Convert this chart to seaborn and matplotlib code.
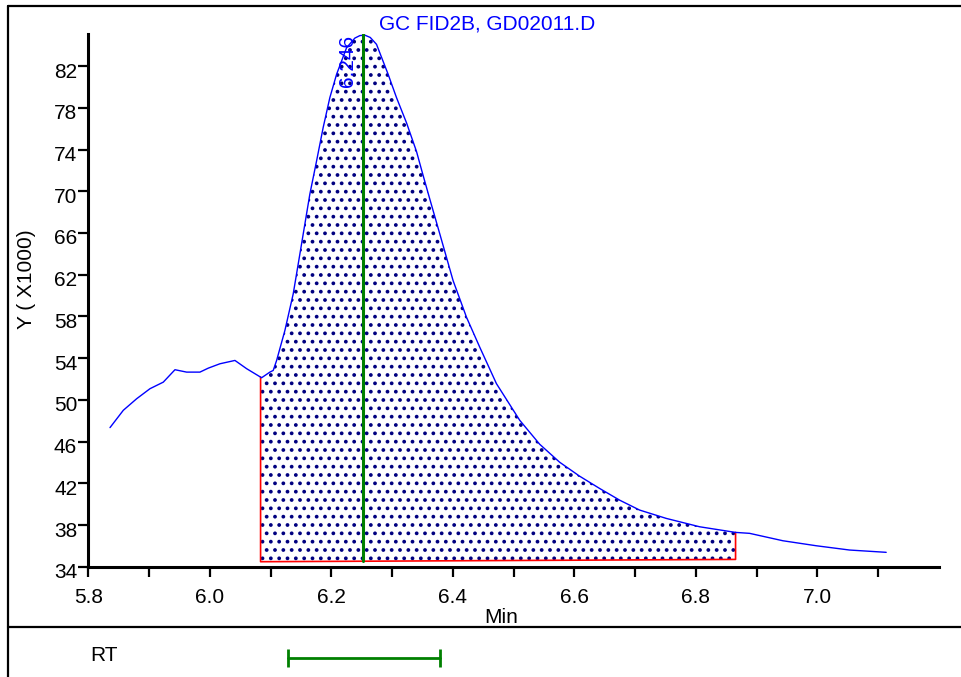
import matplotlib.pyplot as plt
import matplotlib.transforms as mtransforms
from matplotlib.lines import Line2D
import numpy as np
import seaborn as sns

sns.set_theme(style="ticks")
plt.rcParams["font.family"] = ["Liberation Sans", "DejaVu Sans"]
plt.rcParams["hatch.linewidth"] = 1.5

# chromatogram trace: retention time (min) vs signal (x1000)
time_min = [5.8357, 5.8576, 5.8796, 5.9015, 5.9234, 5.9426, 5.9618, 5.9837,
            5.9974, 6.0166, 6.0413, 6.0605, 6.0852, 6.0988, 6.1043, 6.1099,
            6.1235, 6.1372, 6.1482, 6.1564, 6.1646, 6.1757, 6.1865, 6.1975,
            6.2086, 6.2250, 6.2387, 6.2470, 6.2551, 6.2640, 6.2743, 6.2934,
            6.3072, 6.3237, 6.3401, 6.3505, 6.3621, 6.3785, 6.4003, 6.4224,
            6.4442, 6.4717, 6.5100, 6.5429, 6.5757, 6.6086, 6.6416, 6.6745,
            6.7074, 6.7513, 6.8061, 6.8652, 6.8883, 6.9431, 6.9980, 7.0528,
            7.1131]
signal = [47.34, 49.00, 50.11, 51.07, 51.70, 52.89, 52.66, 52.66,
          53.04, 53.46, 53.78, 52.99, 52.12, 52.66, 52.82, 53.78,
          56.65, 60.16, 63.99, 66.86, 69.73, 72.92, 76.11, 78.98,
          81.22, 83.76, 84.69, 84.93, 84.97, 84.75, 84.09, 81.22,
          78.98, 76.56, 73.82, 71.62, 69.23, 65.90, 61.44, 57.92,
          55.05, 51.55, 48.04, 45.74, 44.02, 42.68, 41.50, 40.38,
          39.43, 38.63, 37.83, 37.29, 37.20, 36.49, 36.01, 35.60,
          35.38]

# integration baseline (start, end)
baseline_t = [6.0835, 6.8652]
baseline_y = [34.48, 34.70]

peak_rt = 6.2526
peak_label = "6.246"
rt_window = [6.128, 6.378]

title = "GC FID2B, GD02011.D"
x_ticks = [5.8, 5.9, 6.0, 6.1, 6.2, 6.3, 6.4, 6.5, 6.6, 6.7, 6.8, 6.9, 7.0, 7.1]
x_tick_labels = ["5.8", "", "6.0", "", "6.2", "", "6.4", "", "6.6", "", "6.8", "", "7.0", ""]
y_ticks = [34, 38, 42, 46, 50, 54, 58, 62, 66, 70, 74, 78, 82]

xlim = (5.8, 7.2)
ylim = (34, 85.05)

fig = plt.figure(figsize=(9.61, 6.77), dpi=100)
ax = fig.add_axes([0.0919, 0.1629, 0.8852, 0.7864])

# hatched peak area between trace and baseline
start_v = np.interp(baseline_t[0], time_min, signal)
end_v = np.interp(baseline_t[1], time_min, signal)
inside = [(t, v) for t, v in zip(time_min, signal) if baseline_t[0] < t < baseline_t[1]]
poly_x = [baseline_t[0]] + [p[0] for p in inside] + [baseline_t[1], baseline_t[1], baseline_t[0]]
poly_y = [start_v] + [p[1] for p in inside] + [end_v, baseline_y[1], baseline_y[0]]
ax.fill(poly_x, poly_y, facecolor="white", edgecolor="#000080", hatch="..",
        linewidth=0, zorder=1)

ax.plot([baseline_t[0], baseline_t[0], baseline_t[1], baseline_t[1]],
        [start_v, baseline_y[0], baseline_y[1], end_v],
        color="red", lw=1.2, zorder=2)

sns.lineplot(x=time_min, y=signal, color="blue", lw=1, ax=ax, zorder=3)

peak_base = np.interp(peak_rt, baseline_t, baseline_y)
ax.plot([peak_rt, peak_rt], [peak_base, ylim[1]], color="#008000", lw=2.2, zorder=4)
label_shift = mtransforms.ScaledTranslation(-0.06, -0.01, fig.dpi_scale_trans)
ax.text(peak_rt, 1.0, peak_label, rotation=90, ha="right", va="top", color="blue",
        fontsize=15, transform=ax.get_xaxis_transform() + label_shift, zorder=5)

ax.set_xlim(*xlim)
ax.set_ylim(*ylim)
ax.set_xticks(x_ticks)
ax.set_xticklabels(x_tick_labels)
ax.set_yticks(y_ticks)
ax.set_yticklabels([str(v) for v in y_ticks])

ax.spines[["top", "right"]].set_visible(False)
for side in ["left", "bottom"]:
    ax.spines[side].set_linewidth(2.2)
    ax.spines[side].set_color("black")
ax.tick_params(axis="both", direction="out", length=7, width=1.6,
               colors="black", labelsize=15)
ax.tick_params(axis="x", pad=8)
ax.tick_params(axis="y", pad=1)
down = mtransforms.ScaledTranslation(0, -0.04, fig.dpi_scale_trans)
for lab in ax.get_yticklabels():
    lab.set_transform(lab.get_transform() + down)

ax.set_xlabel("Min", fontsize=15, color="black")
ax.xaxis.set_label_coords(0.485, -0.078)
ax.set_ylabel("Y ( X1000)", fontsize=15, color="black")
ax.yaxis.set_label_coords(-0.062, 0.54)

fig.text(487 / 961, 1 - 29 / 677, title, ha="center", va="baseline",
         color="blue", fontsize=15)

# retention time window panel
ax_rt = fig.add_axes([0.0919, 0.0, 0.8852, 0.0739])
ax_rt.set_xlim(*xlim)
ax_rt.set_ylim(-0.386, 0.614)
ax_rt.axis("off")
ax_rt.plot(rt_window, [0, 0], color="#008000", lw=2, marker="|", ms=13, mew=2)
ax_rt.text(0.002, 0.43, "RT", transform=ax_rt.transAxes, ha="left", va="center",
           fontsize=15, color="black")

# outer frame
x_left = 7.5 / 961
y_top = 1 - 6 / 677
y_sep = 1 - 627 / 677
for xs, ys in [([x_left, x_left], [0, y_top]), ([x_left, 1], [y_top, y_top]),
               ([x_left, 1], [y_sep, y_sep])]:
    fig.add_artist(Line2D(xs, ys, transform=fig.transFigure, color="black", lw=1.6))

fig.savefig("out.png", dpi=100)
plt.close(fig)
